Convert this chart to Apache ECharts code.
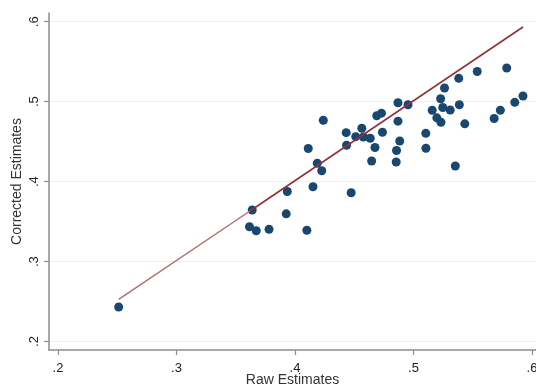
<!DOCTYPE html>
<html>
<head>
<meta charset="utf-8">
<script src="https://cdn.jsdelivr.net/npm/echarts@6/dist/echarts.min.js"></script>
<style>html,body{margin:0;padding:0;background:#fff;}#c{width:536px;height:389px;}</style>
</head>
<body>
<div id="c"></div>
<script>
const rawEstimates = [0.2512,0.3639,0.3616,0.3673,0.3781,0.3926,0.3935,0.4100,0.4152,0.4112,0.4188,0.4226,0.4239,0.4474,0.4432,0.4435,0.4513,0.4564,0.4578,0.4635,0.4675,0.4647,0.4690,0.4730,0.4738,0.4869,0.4954,0.4869,0.4884,0.4857,0.4854,0.5104,0.5105,0.5158,0.5197,0.5232,0.5229,0.5262,0.5247,0.5310,0.5387,0.5382,0.5433,0.5538,0.5787,0.5353,0.5681,0.5733,0.5855,0.5924];
const correctedEstimates = [0.2432,0.3645,0.3436,0.3386,0.3403,0.3597,0.3876,0.3392,0.3936,0.4414,0.4230,0.4136,0.4767,0.3861,0.4612,0.4455,0.4562,0.4668,0.4558,0.4542,0.4427,0.4258,0.4824,0.4856,0.4617,0.4986,0.4961,0.4756,0.4508,0.4389,0.4245,0.4604,0.4417,0.4893,0.4798,0.4743,0.5036,0.5171,0.4927,0.4896,0.4961,0.5292,0.4723,0.5377,0.5421,0.4195,0.4789,0.4893,0.4992,0.5071];
const fitLineX = [0.2512, 0.3620, 0.5924];
const fitLineY = [0.2528, 0.3633, 0.5934];
const xTickValues = [0.2, 0.3, 0.4, 0.5, 0.6];
const xTickLabels = ['.2', '.3', '.4', '.5', '.6'];
const yTickValues = [0.2, 0.3, 0.4, 0.5, 0.6];
const yTickLabels = ['.2', '.3', '.4', '.5', '.6'];

const points = rawEstimates.map((x, i) => [x, correctedEstimates[i]]);
const lineLow = [[fitLineX[0], fitLineY[0]], [fitLineX[1], fitLineY[1]]];
const lineHigh = [[fitLineX[1], fitLineY[1]], [fitLineX[2], fitLineY[2]]];

function labelFor(values, labels) {
  return function (v) {
    for (let i = 0; i < values.length; i++) {
      if (Math.abs(values[i] - v) < 1e-9) return labels[i];
    }
    return '';
  };
}

const chart = echarts.init(document.getElementById('c'), null, {renderer: 'canvas'});
chart.setOption({
  animation: false,
  backgroundColor: '#ffffff',
  grid: {left: 49, right: 0, top: 13, bottom: 39, containLabel: false, outerBoundsMode: 'none'},
  xAxis: {
    type: 'value',
    min: 0.1924, max: 0.6034,
    name: 'Raw Estimates',
    nameLocation: 'middle',
    nameGap: 23,
    nameMoveOverlap: false,
    nameTextStyle: {fontFamily: 'Liberation Sans', fontSize: 14, color: '#333333'},
    axisLine: {show: true, onZero: false, lineStyle: {color: '#8c8c8c', width: 1.5}},
    axisTick: {show: true, length: 5, customValues: xTickValues, lineStyle: {color: '#8c8c8c', width: 1.2}},
    axisLabel: {customValues: xTickValues, formatter: labelFor(xTickValues, xTickLabels), margin: 12,
      fontFamily: 'Liberation Sans', fontSize: 13, color: '#222222'},
    splitLine: {show: false}
  },
  yAxis: {
    type: 'value',
    min: 0.1894, max: 0.6109,
    name: 'Corrected Estimates',
    nameLocation: 'middle',
    nameGap: 25,
    nameMoveOverlap: false,
    nameTextStyle: {fontFamily: 'Liberation Sans', fontSize: 14, color: '#333333'},
    axisLine: {show: true, onZero: false, lineStyle: {color: '#8c8c8c', width: 1.5}},
    axisTick: {show: true, length: 5, customValues: yTickValues, lineStyle: {color: '#8c8c8c', width: 1.2}},
    axisLabel: {customValues: yTickValues, formatter: labelFor(yTickValues, yTickLabels), rotate: 90, margin: 8,
      fontFamily: 'Liberation Sans', fontSize: 13, color: '#222222'},
    splitLine: {show: true, lineStyle: {color: '#e8f1f3', width: 1.2}}
  },
  series: [
    {
      type: 'scatter',
      data: points,
      symbol: 'circle',
      symbolSize: 9,
      itemStyle: {color: '#1a476f', opacity: 1},
      z: 2
    },
    {
      type: 'line',
      data: lineLow,
      symbol: 'none',
      lineStyle: {color: '#b86a70', width: 1.4},
      z: 3
    },
    {
      type: 'line',
      data: lineHigh,
      symbol: 'none',
      lineStyle: {color: '#93303a', width: 1.6},
      z: 3
    }
  ]
});
</script>
</body>
</html>
